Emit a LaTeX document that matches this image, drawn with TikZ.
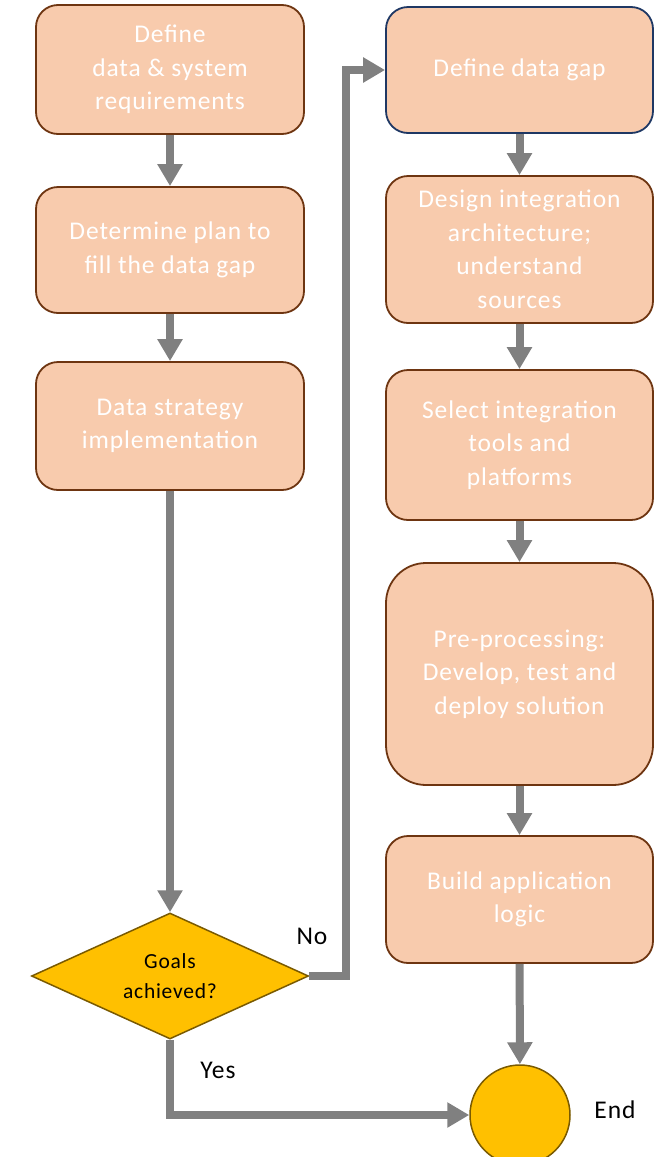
\documentclass[tikz,border=0pt]{standalone}
\usepackage{fontspec}
\setmainfont[LetterSpace=3.5]{Carlito}
\usetikzlibrary{arrows.meta,shapes.geometric}
\definecolor{peach}{HTML}{F8CBAD}
\definecolor{rust}{HTML}{6E3511}
\definecolor{navy}{HTML}{1F3864}
\definecolor{amber}{HTML}{FFC000}
\definecolor{olive}{HTML}{7A5A00}
\definecolor{flow}{HTML}{808080}
\tikzset{
  stepbox/.style={draw=rust, fill=peach, line width=1.8pt, rounded corners=22pt,
    text=white, align=center, inner sep=0pt,
    font=\fontsize{25.5}{33.5}\selectfont},
  leftbox/.style={stepbox, minimum width=268pt},
  rightbox/.style={stepbox, minimum width=267pt},
  decision/.style={diamond, draw=olive, fill=amber, line width=1.5pt, aspect=2.2,
    minimum width=277pt, minimum height=126pt, inner sep=0pt, align=center,
    font=\fontsize{21.5}{30}\selectfont},
  terminal/.style={circle, draw=olive, fill=amber, line width=1.5pt,
    minimum size=100pt, inner sep=0pt},
  tag/.style={font=\fontsize{25.5}{30}\selectfont, inner sep=0pt},
  arr/.style={draw=flow, line width=8pt, line join=miter,
    -{Triangle[length=22pt,width=24pt]}}
}
\begin{document}
\begin{tikzpicture}[x=1pt,y=-1pt]
\useasboundingbox (0,0) rectangle (654,1157);

% left column
\node[leftbox, minimum height=129pt] (req) at (170,69.5) {Define\\data \& system\\requirements};
\node[leftbox, minimum height=126pt] (plan) at (170,250) {Determine plan to\\fill the data gap};
\node[leftbox, minimum height=128pt] (impl) at (170,426) {Data strategy\\implementation};
\node[decision] (goals) at (170,976) {Goals\\achieved?};

% right column
\node[rightbox, draw=navy, minimum height=126pt] (gap) at (519.5,70) {Define data gap};
\node[rightbox, minimum height=147pt] (arch) at (519.5,249.5) {Design integration\\architecture;\\understand\\sources};
\node[rightbox, minimum height=150pt] (tools) at (519.5,445) {Select integration\\tools and\\platforms};
\node[rightbox, minimum height=222pt, rounded corners=40pt] (prep) at (519.5,674) {Pre-processing:\\Develop, test and\\deploy solution};
\node[rightbox, minimum height=127pt] (logic) at (519.5,899.5) {Build application\\logic};
\node[terminal] (end) at (520,1115) {};

% labels
\node[tag] (nolbl) at (312,936) {No};
\node[tag] (yeslbl) at (218,1070) {Yes};
\node[tag] (endlbl) at (615,1110) {End};

% connectors
\coordinate (noturn) at (346,976);
\draw[arr] (req) -- (plan);
\draw[arr] (plan) -- (impl);
\draw[arr] (impl) -- (goals);
\draw[arr] (goals.east) -- (noturn) |- (gap.west);
\draw[arr] (goals.south) |- (end.west);
\draw[arr] (gap) -- (arch);
\draw[arr] (arch) -- (tools);
\draw[arr] (tools) -- (prep);
\draw[arr] (prep) -- (logic);
\draw[arr] (logic) -- (end);
\end{tikzpicture}
\end{document}
